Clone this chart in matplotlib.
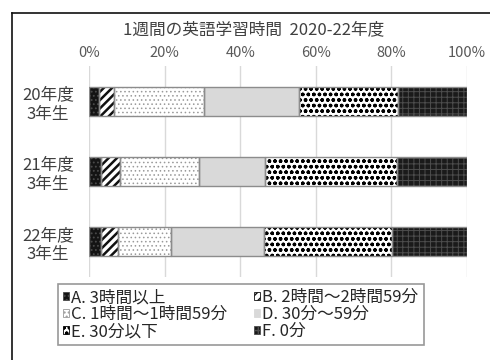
import matplotlib
matplotlib.use("Agg")
import matplotlib.pyplot as plt
from matplotlib.patches import Patch
from matplotlib.lines import Line2D
import numpy as np

plt.rcParams["font.family"] = ["Noto Sans CJK JP", "DejaVu Sans"]

title = "1週間の英語学習時間  2020-22年度"
groups = ["20年度\n3年生", "21年度\n3年生", "22年度\n3年生"]
labels = ["A. 3時間以上", "B. 2時間～2時間59分", "C. 1時間～1時間59分",
          "D. 30分～59分", "E. 30分以下", "F. 0分"]
share_a = [2.6, 3.1, 3.2]
share_b = [4.1, 5.1, 4.6]
share_c = [23.7, 20.9, 13.8]
share_d = [25.1, 17.5, 24.8]
share_e = [26.2, 35.0, 33.8]
share_f = [18.3, 18.4, 19.8]
xticks = [0, 20, 40, 60, 80, 100]

# (face, hatch, hatch colour, hatch linewidth)
styles = [
    ("#141414", "....", "#4a4a4a", 0.8),
    ("white", "////", "#111111", 1.8),
    ("white", "....", "#9a9a9a", 0.6),
    ("#d9d9d9", "", "#d9d9d9", 1.0),
    ("white", "ooo", "#000000", 1.0),
    ("#1a1a1a", "+++", "#4d4d4d", 0.7),
]

fig = plt.figure(figsize=(4.9, 3.6), dpi=100)
ax = fig.add_axes([89 / 490, 1 - 277 / 360, 378 / 490, 211 / 360])

y = np.arange(len(groups))
left = np.zeros(len(groups))
series = [share_a, share_b, share_c, share_d, share_e, share_f]
handles = []
for vals, (face, hatch, hc, hlw), lab in zip(series, styles, labels):
    with plt.rc_context({"hatch.linewidth": hlw}):
        ax.barh(y, vals, left=left, height=0.41, color=face, hatch=hatch,
                edgecolor=hc, linewidth=0, zorder=2)
        handles.append(Patch(facecolor=face, hatch=hatch, edgecolor=hc,
                             linewidth=0.6, label=lab))
    ax.barh(y, vals, left=left, height=0.41, fill=False,
            edgecolor="#8c8c8c", linewidth=1.0, zorder=3)
    left += np.array(vals)

ax.set_xlim(0, 100)
ax.set_ylim(2.5, -0.5)
ax.set_xticks(xticks)
ax.set_xticklabels([f"{t}%" for t in xticks])
ax.xaxis.tick_top()
ax.tick_params(axis="x", length=0, pad=4, labelsize=10.5, labelcolor="#595959")
ax.set_yticks(y)
ax.set_yticklabels(groups, multialignment="center")
ax.tick_params(axis="y", length=0, pad=11, labelsize=12, labelcolor="#404040")
ax.grid(axis="x", color="#d9d9d9", lw=1, zorder=0)
for sp in ax.spines.values():
    sp.set_visible(False)

order = [0, 2, 4, 1, 3, 5]
leg = fig.legend([handles[i] for i in order], [labels[i] for i in order],
                 ncol=2, loc="upper left",
                 bbox_to_anchor=(58 / 490, 1 - 284 / 360),
                 fontsize=12, frameon=True, fancybox=False,
                 edgecolor="#7f7f7f", handlelength=0.35, handleheight=0.35,
                 handletextpad=0.15, borderpad=0.3, labelspacing=0.0,
                 columnspacing=1.6, borderaxespad=0)
leg.get_frame().set_linewidth(1.2)
for t in leg.get_texts():
    t.set_color("#262626")

fig.text(254 / 490, 1 - 30 / 360, title, ha="center", va="center",
         fontsize=12, color="#404040")

# outer frame (only top and left edges are inside the picture)
fig.add_artist(Line2D([12 / 490, 12 / 490], [0, 1 - 13 / 360],
                      transform=fig.transFigure, color="#111111", lw=1.2))
fig.add_artist(Line2D([12 / 490, 1], [1 - 13 / 360, 1 - 13 / 360],
                      transform=fig.transFigure, color="#111111", lw=1.2))

fig.savefig("out.png", dpi=100)
